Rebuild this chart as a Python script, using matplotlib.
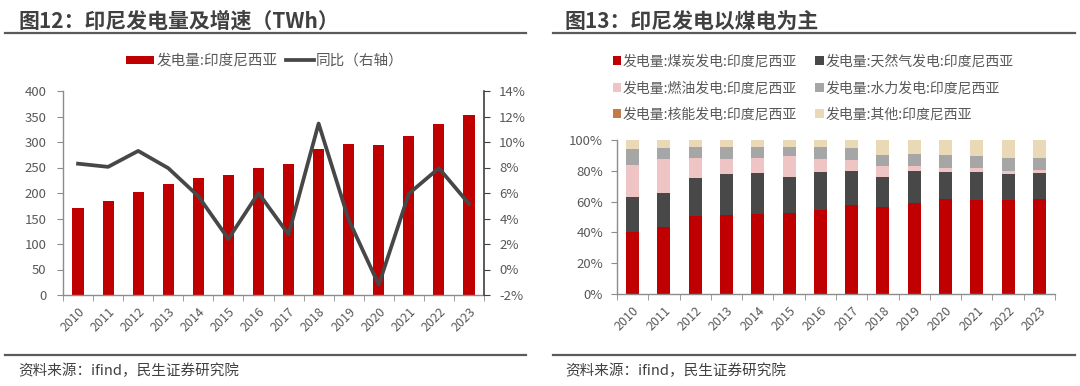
import matplotlib
matplotlib.use("Agg")
import matplotlib.pyplot as plt
from matplotlib.lines import Line2D
from matplotlib.patches import Patch
import numpy as np

plt.rcParams['font.family'] = ['Noto Sans CJK SC', 'DejaVu Sans']

years = ['2010', '2011', '2012', '2013', '2014', '2015', '2016', '2017',
         '2018', '2019', '2020', '2021', '2022', '2023']
generation_twh = [171, 185, 202, 218, 230, 235, 249, 257, 286, 297, 294, 311, 336, 353]
yoy_pct = [8.3, 8.05, 9.3, 7.95, 5.75, 2.4, 6.0, 2.75, 11.45, 3.9, -1.2, 5.95, 7.95, 5.15]

coal = [40.0, 43.8, 50.5, 51.0, 51.8, 52.7, 54.6, 57.9, 56.2, 59.0, 61.6, 61.1, 61.1, 61.6]
gas = [22.9, 21.6, 24.7, 27.2, 26.8, 23.5, 24.9, 22.0, 20.0, 20.9, 17.9, 18.4, 17.1, 17.2]
oil = [20.9, 22.3, 13.4, 9.5, 10.0, 13.4, 8.2, 7.1, 6.7, 3.5, 2.1, 2.1, 1.7, 1.8]
hydro = [10.6, 7.1, 6.6, 8.0, 7.1, 6.1, 7.5, 7.8, 7.6, 7.5, 8.5, 8.0, 8.2, 7.5]
nuclear = [0] * 14
other = [5.6, 5.2, 4.8, 4.3, 4.3, 4.3, 4.8, 5.2, 9.5, 9.1, 9.9, 10.4, 11.9, 11.9]

left_title = '图12：印尼发电量及增速（TWh）'
right_title = '图13：印尼发电以煤电为主'
source = '资料来源：ifind，民生证券研究院'
bar_label = '发电量:印度尼西亚'
line_label = '同比（右轴）'
stack_labels = ['发电量:煤炭发电:印度尼西亚', '发电量:天然气发电:印度尼西亚',
                '发电量:燃油发电:印度尼西亚', '发电量:水力发电:印度尼西亚',
                '发电量:核能发电:印度尼西亚', '发电量:其他:印度尼西亚']
stack_colors = ['#c00000', '#484848', '#efc4c5', '#a6a6a6', '#c47a48', '#ead9b6']

W, H = 1080, 386
fig = plt.figure(figsize=(W / 100, H / 100), dpi=100)

TXT = '#595959'
SPINE = '#8c8c8c'
TITLE = '#404040'

def fx(px):
    return px / W

def fy(py):
    return 1 - py / H

# titles and separator lines
fig.text(fx(18), fy(21), left_title, fontsize=15, fontweight='bold', color=TITLE, va='center', ha='left')
fig.text(fx(565), fy(21), right_title, fontsize=15, fontweight='bold', color=TITLE, va='center', ha='left')
for x0, x1 in [(5, 526), (553, 1075)]:
    for yy in [33, 355]:
        fig.add_artist(Line2D([fx(x0), fx(x1)], [fy(yy), fy(yy)], color='#5a5a5a', lw=1.6,
                              transform=fig.transFigure))
fig.text(fx(18), fy(371), source, fontsize=10.5, color=TITLE, va='center', ha='left')
fig.text(fx(565), fy(371), source, fontsize=10.5, color=TITLE, va='center', ha='left')

x = np.arange(len(years))

def style_xaxis(ax):
    ax.set_xlim(-0.5, len(years) - 0.5)
    ax.set_xticks(x)
    ax.set_xticklabels(years, rotation=45, ha='right', rotation_mode='anchor', fontsize=9, color=TXT)
    ax.set_xticks(np.arange(len(years) + 1) - 0.5, minor=True)
    ax.tick_params(axis='x', which='major', length=0, pad=7)
    ax.tick_params(axis='x', which='minor', length=4, color=SPINE, direction='out')

# ---------------- left chart ----------------
ax1 = fig.add_axes([fx(63), fy(295), fx(484 - 63), (295 - 91) / H])
ax1.bar(x, generation_twh, width=0.37, color='#c00000', zorder=2)
ax1.set_ylim(0, 400)
ax1.set_yticks(np.arange(0, 401, 50))
ax1.tick_params(axis='y', length=4, color=SPINE, labelsize=9.5, labelcolor=TXT, pad=8)
style_xaxis(ax1)
for s in ['top', 'right']:
    ax1.spines[s].set_visible(False)
for s in ['left', 'bottom']:
    ax1.spines[s].set_color(SPINE)
    ax1.spines[s].set_linewidth(1.0)

ax2 = ax1.twinx()
ax2.plot(x, yoy_pct, color='#474747', lw=2.7, zorder=3)
ax2.set_ylim(-2, 14)
ax2.set_yticks(np.arange(-2, 15, 2))
ax2.set_yticklabels([f'{v}%' for v in range(-2, 15, 2)])
ax2.tick_params(axis='y', length=4, color='#404040', labelsize=9.5, labelcolor=TXT, pad=7)
for s in ['top', 'left', 'bottom']:
    ax2.spines[s].set_visible(False)
ax2.spines['right'].set_color('#404040')
ax2.spines['right'].set_linewidth(1.2)

h1 = Patch(facecolor='#c00000')
h2 = Line2D([], [], color='#474747', lw=2.7)
fig.legend([h1, h2], [bar_label, line_label], loc='center', bbox_to_anchor=(fx(265), fy(61)),
           ncol=2, frameon=False, fontsize=10.5, labelcolor=TXT, handlelength=1.9, handleheight=0.5,
           handletextpad=0.15, columnspacing=0.6)

# ---------------- right chart ----------------
ax3 = fig.add_axes([fx(617), fy(294), fx(1055 - 617), (294 - 140) / H])
bottom = np.zeros(len(years))
series = [coal, gas, oil, hydro, nuclear, other]
handles = []
for vals, col in zip(series, stack_colors):
    v = np.array(vals, dtype=float)
    ax3.bar(x, v, width=0.42, bottom=bottom, color=col, zorder=2)
    bottom += v
    handles.append(Patch(facecolor=col))
ax3.set_ylim(0, 100)
ax3.set_yticks(np.arange(0, 101, 20))
ax3.set_yticklabels([f'{v}%' for v in range(0, 101, 20)])
ax3.tick_params(axis='y', length=4, color=SPINE, labelsize=9.5, labelcolor=TXT, pad=6)
style_xaxis(ax3)
for s in ['top', 'right']:
    ax3.spines[s].set_visible(False)
for s in ['left', 'bottom']:
    ax3.spines[s].set_color(SPINE)
    ax3.spines[s].set_linewidth(1.0)

order = [0, 2, 4, 1, 3, 5]
fig.legend([handles[i] for i in order], [stack_labels[i] for i in order], loc='upper left',
           bbox_to_anchor=(fx(600), fy(42)), ncol=2, frameon=False, fontsize=10, labelcolor=TXT,
           handlelength=0.6, handleheight=0.6, handletextpad=0.15, columnspacing=1.3,
           labelspacing=0.9)

fig.savefig('out.png', dpi=100)
